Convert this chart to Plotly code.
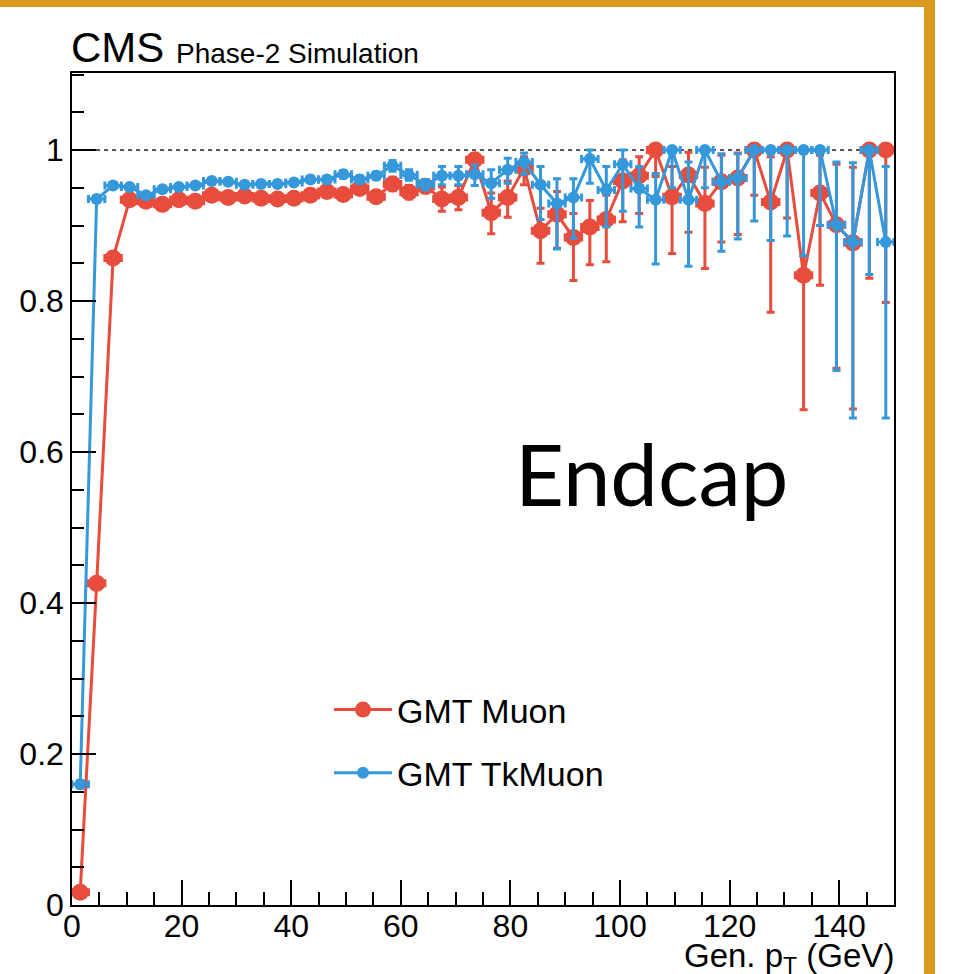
import plotly.graph_objects as go

# ---------------- data ----------------
pt_centers = [1.5, 4.5, 7.5, 10.5, 13.5, 16.5, 19.5, 22.5, 25.5, 28.5,
              31.5, 34.5, 37.5, 40.5, 43.5, 46.5, 49.5, 52.5, 55.5, 58.5,
              61.5, 64.5, 67.5, 70.5, 73.5, 76.5, 79.5, 82.5, 85.5, 88.5,
              91.5, 94.5, 97.5, 100.5, 103.5, 106.5, 109.5, 112.5, 115.5, 118.5,
              121.5, 124.5, 127.5, 130.5, 133.5, 136.5, 139.5, 142.5, 145.5, 148.5]
pt_halfwidth = [1.5] * 50

muon_eff = [0.017, 0.426, 0.857, 0.934, 0.932, 0.928, 0.934, 0.932, 0.940, 0.937,
            0.939, 0.936, 0.935, 0.936, 0.940, 0.945, 0.941, 0.949, 0.938, 0.955,
            0.944, 0.952, 0.935, 0.937, 0.987, 0.917, 0.937, 0.976, 0.893, 0.915,
            0.884, 0.898, 0.908, 0.959, 0.966, 1.000, 0.938, 0.967, 0.929, 0.958,
            0.963, 1.000, 0.931, 1.000, 0.834, 0.943, 0.901, 0.877, 1.000, 1.000]
muon_err_up = [0.003, 0.006, 0.005, 0.004, 0.004, 0.004, 0.004, 0.004, 0.004, 0.004,
               0.005, 0.005, 0.005, 0.005, 0.005, 0.005, 0.007, 0.007, 0.007, 0.009,
               0.009, 0.009, 0.016, 0.016, 0.008, 0.026, 0.022, 0.015, 0.030, 0.030,
               0.032, 0.035, 0.032, 0.028, 0.025, 0.000, 0.040, 0.030, 0.048, 0.035,
               0.033, 0.000, 0.060, 0.000, 0.025, 0.050, 0.080, 0.100, 0.000, 0.000]
muon_err_dn = [0.003, 0.006, 0.005, 0.004, 0.004, 0.004, 0.004, 0.004, 0.004, 0.004,
               0.005, 0.005, 0.005, 0.005, 0.005, 0.005, 0.007, 0.007, 0.007, 0.009,
               0.009, 0.009, 0.016, 0.016, 0.012, 0.028, 0.026, 0.022, 0.043, 0.045,
               0.057, 0.050, 0.056, 0.054, 0.050, 0.035, 0.075, 0.076, 0.086, 0.080,
               0.075, 0.060, 0.146, 0.090, 0.178, 0.122, 0.190, 0.220, 0.170, 0.202]

tkmuon_eff = [0.160, 0.935, 0.953, 0.951, 0.940, 0.948, 0.951, 0.953, 0.959, 0.958,
              0.954, 0.955, 0.955, 0.957, 0.961, 0.961, 0.968, 0.961, 0.966, 0.979,
              0.967, 0.954, 0.966, 0.966, 0.968, 0.956, 0.974, 0.984, 0.954, 0.929,
              0.937, 0.988, 0.947, 0.981, 0.949, 0.934, 1.000, 0.934, 1.000, 0.958,
              0.963, 1.000, 1.000, 1.000, 1.000, 1.000, 0.901, 0.878, 1.000, 0.878]
tkmuon_err_up = [0.005, 0.004, 0.003, 0.003, 0.003, 0.003, 0.003, 0.003, 0.003, 0.003,
                 0.004, 0.004, 0.004, 0.004, 0.004, 0.004, 0.005, 0.005, 0.005, 0.007,
                 0.007, 0.007, 0.012, 0.012, 0.012, 0.018, 0.015, 0.012, 0.024, 0.033,
                 0.025, 0.012, 0.031, 0.019, 0.029, 0.035, 0.000, 0.050, 0.000, 0.037,
                 0.032, 0.000, 0.000, 0.000, 0.000, 0.000, 0.083, 0.105, 0.000, 0.100]
tkmuon_err_dn = [0.005, 0.004, 0.003, 0.003, 0.003, 0.003, 0.003, 0.003, 0.003, 0.003,
                 0.004, 0.004, 0.004, 0.004, 0.004, 0.004, 0.005, 0.005, 0.005, 0.007,
                 0.007, 0.007, 0.012, 0.012, 0.015, 0.020, 0.018, 0.016, 0.046, 0.060,
                 0.054, 0.032, 0.049, 0.062, 0.051, 0.085, 0.050, 0.088, 0.050, 0.092,
                 0.081, 0.094, 0.120, 0.114, 0.140, 0.100, 0.193, 0.233, 0.165, 0.233]

x_ticks = [0, 20, 40, 60, 80, 100, 120, 140]
y_ticks = [0, 0.2, 0.4, 0.6, 0.8, 1]

RED = "#E74C3C"
BLUE = "#3498DB"
GOLD = "#D99A1E"
FONT = "Liberation Sans, Arial, Helvetica, sans-serif"

# ---------------- figure ----------------
fig = go.Figure()

fig.add_trace(go.Scatter(
    x=pt_centers, y=muon_eff, name="GMT Muon", mode="lines+markers",
    legendgroup="a",
    line=dict(color=RED, width=3),
    marker=dict(color=RED, size=17, symbol="circle"),
    error_y=dict(type="data", symmetric=False, array=muon_err_up, arrayminus=muon_err_dn,
                 color=RED, thickness=3, width=4),
    error_x=dict(type="data", array=pt_halfwidth, color=RED, thickness=3, width=4),
))
fig.add_trace(go.Scatter(
    x=pt_centers, y=tkmuon_eff, name="GMT TkMuon", mode="lines+markers",
    legendgroup="b",
    line=dict(color=BLUE, width=3),
    marker=dict(color=BLUE, size=12, symbol="circle"),
    error_y=dict(type="data", symmetric=False, array=tkmuon_err_up, arrayminus=tkmuon_err_dn,
                 color=BLUE, thickness=3, width=4),
    error_x=dict(type="data", array=pt_halfwidth, color=BLUE, thickness=3, width=4),
))

# dashed line at efficiency = 1
fig.add_shape(type="line", xref="x", yref="y", x0=0, x1=150, y0=1, y1=1,
              line=dict(color="#222222", width=1.5, dash="4px,4px"), layer="below")

# gold frame pieces (top and right)
fig.add_shape(type="rect", xref="paper", yref="paper",
              x0=(0 - 72) / 822, x1=(935 - 72) / 822,
              y0=(905 - 7) / 832, y1=(905 - 0) / 832,
              fillcolor=GOLD, line=dict(width=0), layer="above")
fig.add_shape(type="rect", xref="paper", yref="paper",
              x0=(924 - 72) / 822, x1=(935 - 72) / 822,
              y0=(905 - 974) / 832, y1=(905 - 0) / 832,
              fillcolor=GOLD, line=dict(width=0), layer="above")

# texts
fig.add_annotation(text="CMS", xref="paper", yref="paper", x=-0.004, y=(905 - 47) / 832,
                   xanchor="left", yanchor="middle", showarrow=False,
                   font=dict(family=FONT, size=42, color="black"))
fig.add_annotation(text="Phase-2 Simulation", xref="paper", yref="paper",
                   x=(174 - 72) / 822, y=(905 - 53) / 832,
                   xanchor="left", yanchor="middle", showarrow=False,
                   font=dict(family=FONT, size=28, color="black"))
fig.add_annotation(text="Endcap", xref="paper", yref="paper",
                   x=(513 - 72) / 822, y=(905 - 473) / 832,
                   xanchor="left", yanchor="middle", showarrow=False,
                   font=dict(family="Lato, sans-serif", size=85, color="black"))
fig.add_annotation(text="Gen. p<sub>T</sub> (GeV)", xref="paper", yref="paper",
                   x=(896 - 72) / 822, y=(905 - 958) / 832,
                   xanchor="right", yanchor="middle", showarrow=False,
                   font=dict(family=FONT, size=33, color="black"))

axis_common = dict(
    showgrid=False, zeroline=False, showline=True, linecolor="black", linewidth=1.5,
    mirror=True, ticks="inside", tickcolor="black", tickwidth=1.5,
    tickfont=dict(family=FONT, size=32, color="black"),
)

fig.update_xaxes(range=[0, 150], tickvals=x_ticks, ticklen=25, ticklabelstandoff=-8,
                 minor=dict(ticks="inside", ticklen=13, dtick=5, tickcolor="black", tickwidth=1.5),
                 **axis_common)
fig.update_yaxes(range=[0, 1.102], tickvals=y_ticks, ticklen=24,
                 minor=dict(ticks="inside", ticklen=12, dtick=0.05, tickcolor="black", tickwidth=1.5),
                 **axis_common)

fig.update_layout(
    width=964, height=974,
    margin=dict(l=72, r=70, t=73, b=69),
    paper_bgcolor="white", plot_bgcolor="white",
    font=dict(family=FONT, color="black"),
    showlegend=True,
    legend=dict(x=(329 - 72) / 822, y=(905 - 681) / 832, xanchor="left", yanchor="top",
                font=dict(family=FONT, size=34, color="black"),
                bgcolor="rgba(0,0,0,0)", traceorder="grouped", tracegroupgap=16,
                itemwidth=58),
)

fig.write_html("out.html")
